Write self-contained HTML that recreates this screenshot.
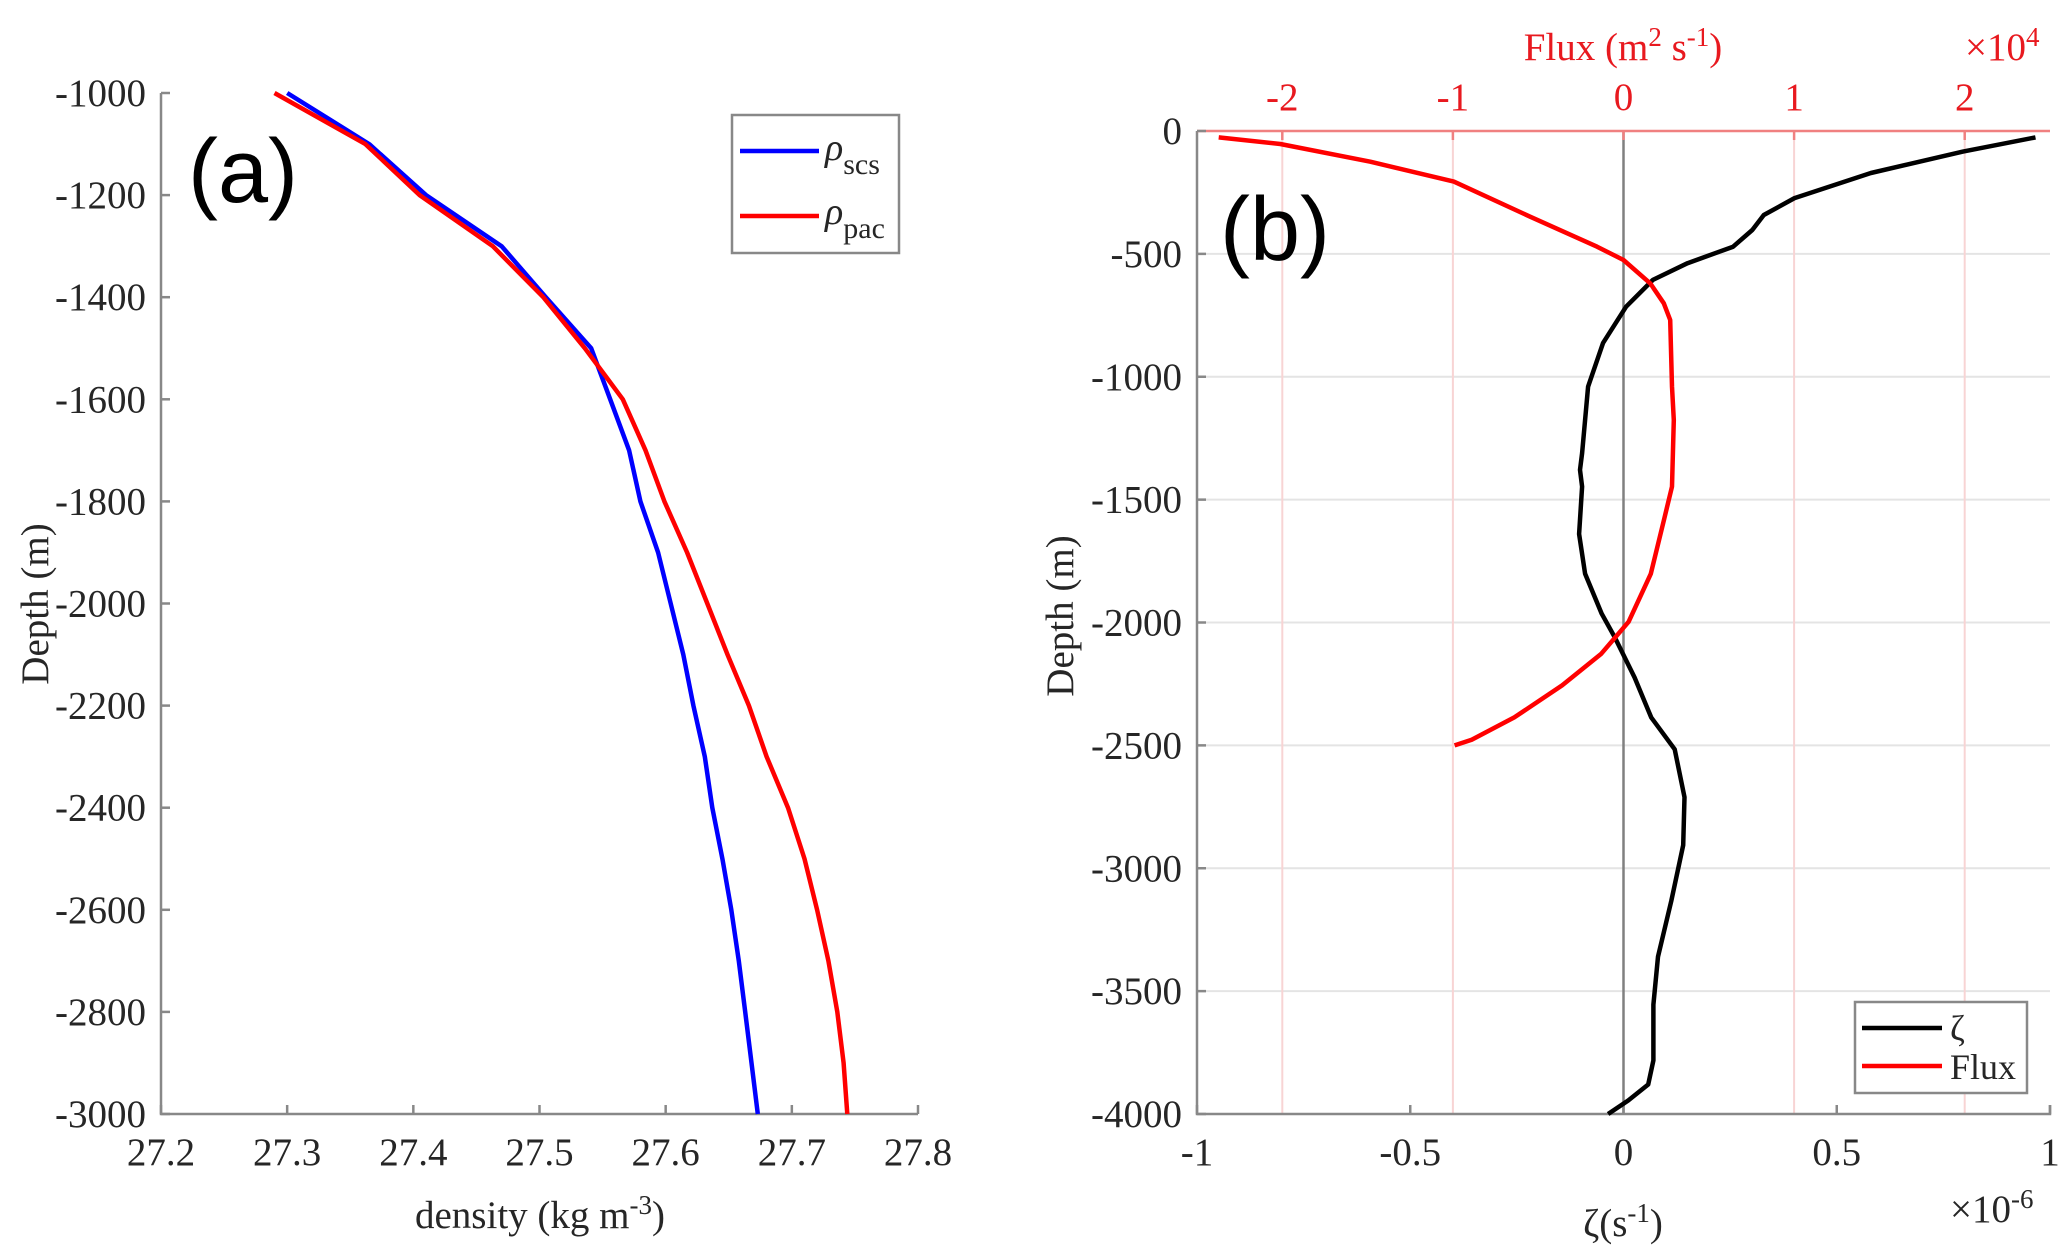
<!DOCTYPE html>
<html><head><meta charset="utf-8"><style>
html,body{margin:0;padding:0;background:#fff;}
svg{display:block;}
text{font-family:"Liberation Serif",serif;}
text.sans{font-family:"Liberation Sans",sans-serif;}
</style></head><body>
<svg id="fig" width="2067" height="1250" viewBox="0 0 2067 1250" xmlns="http://www.w3.org/2000/svg"></svg>
<script>
// ---------- Panel (a) data ----------
const aDepths = [-1000,-1100,-1200,-1300,-1400,-1500,-1600,-1700,-1800,-1900,-2000,-2100,-2200,-2300,-2400,-2500,-2600,-2700,-2800,-2900,-3000];
const rhoScs = [27.30,27.365,27.41,27.47,27.505,27.541,27.556,27.571,27.580,27.594,27.604,27.614,27.622,27.631,27.637,27.645,27.652,27.658,27.663,27.668,27.673];
const rhoPac = [27.29,27.362,27.405,27.463,27.503,27.536,27.566,27.584,27.599,27.617,27.633,27.649,27.666,27.680,27.697,27.710,27.720,27.729,27.736,27.741,27.744];
const aXTicks = [27.2,27.3,27.4,27.5,27.6,27.7,27.8];
const aYTicks = [-1000,-1200,-1400,-1600,-1800,-2000,-2200,-2400,-2600,-2800,-3000];
// ---------- Panel (b) data ----------
const zetaDepths = [-26,-84,-171,-273,-342,-403,-471,-538,-606,-715,-863,-1040,-1311,-1379,-1447,-1640,-1802,-1964,-2062,-2224,-2386,-2516,-2711,-2906,-3133,-3360,-3555,-3782,-3880,-3945,-4000];
const zetaVals = [0.966,0.796,0.580,0.401,0.329,0.302,0.257,0.150,0.069,0.006,-0.048,-0.083,-0.097,-0.102,-0.097,-0.104,-0.09,-0.051,-0.02,0.026,0.065,0.12,0.143,0.14,0.112,0.081,0.07,0.07,0.058,0.011,-0.036];
const fluxDepths = [-26,-53,-125,-206,-349,-471,-525,-620,-701,-769,-1040,-1176,-1447,-1575,-1802,-1997,-2127,-2256,-2386,-2477,-2500];
const fluxVals = [-2.373,-2.012,-1.484,-0.995,-0.546,-0.155,0,0.157,0.236,0.274,0.284,0.295,0.284,0.24,0.16,0.03,-0.13,-0.36,-0.64,-0.89,-0.99];
const bXTicks = [-1,-0.5,0,0.5,1];
const bXTickLabels = ['-1','-0.5','0','0.5','1'];
const fluxTicks = [-2,-1,0,1,2];
const bYTicks = [0,-500,-1000,-1500,-2000,-2500,-3000,-3500,-4000];

const svg = document.getElementById('fig');
const NS = 'http://www.w3.org/2000/svg';
function mk(tag, attrs, parent){
  const e = document.createElementNS(NS, tag);
  for (const k in attrs) e.setAttribute(k, attrs[k]);
  (parent||svg).appendChild(e);
  return e;
}
function txt(s, attrs, parent){ const t = mk('text', attrs, parent); t.textContent = s; return t; }
function linePath(xs, ys, fx, fy){ return xs.map((v,i)=>(i?'L':'M')+fx(v).toFixed(1)+','+fy(ys[i]).toFixed(1)).join(' '); }

// ----- Panel a axes -----
const A = {l:161, r:918, t:93, b:1114};
const ax = v => A.l + (v-27.2)/(0.6)*(A.r-A.l);
const ay = d => A.t + (-1000-d)/2000*(A.b-A.t);

const ga = mk('g', {});


const axA = mk('path', {d:`M${A.l},${A.t} L${A.l},${A.b} L${A.r},${A.b}`, fill:'none', stroke:'#888', 'stroke-width':2.5}, ga);


aXTicks.forEach(v=>{
  const x = ax(v);
  mk('line',{x1:x,y1:A.b,x2:x,y2:A.b-9,stroke:'#888','stroke-width':2.5},ga);
  const t = txt(v.toFixed(1),{x:x,y:1165,'font-size':39,'text-anchor':'middle',fill:'#262626'},ga);
  
  
});
aYTicks.forEach(v=>{
  const y = ay(v);
  mk('line',{x1:A.l,y1:y,x2:A.l+9,y2:y,stroke:'#888','stroke-width':2.5},ga);
  const t = txt(String(v),{x:A.l-15,y:y+13,'font-size':39,'text-anchor':'end',fill:'#262626'},ga);
  
  
});
const lScs = mk('path',{d:linePath(rhoScs,aDepths,ax,ay),fill:'none',stroke:'#0000ff','stroke-width':4.5,'stroke-linejoin':'round'},ga);


const lPac = mk('path',{d:linePath(rhoPac,aDepths,ax,ay),fill:'none',stroke:'#ff0000','stroke-width':4.5,'stroke-linejoin':'round'},ga);


const labA = txt('(a)',{x:188,y:202,'font-size':90,'class':'sans',fill:'#000'},ga);


const xtA = txt('',{x:540,y:1228,'font-size':39,'text-anchor':'middle',fill:'#262626'},ga);
xtA.innerHTML = 'density (kg m<tspan dy="-14" font-size="27">-3</tspan><tspan dy="14">)</tspan>';


const ytA = txt('Depth (m)',{x:0,y:0,'font-size':39,'text-anchor':'middle',fill:'#262626',transform:'translate(48,604) rotate(-90)'},ga);


// legend a
const legA = mk('g',{},ga);


mk('rect',{x:732,y:115,width:167,height:138,fill:'#fff',stroke:'#888','stroke-width':2.5},legA);
mk('line',{x1:740,y1:151,x2:819,y2:151,stroke:'#0000ff','stroke-width':4.5},legA);
mk('line',{x1:740,y1:216,x2:819,y2:216,stroke:'#ff0000','stroke-width':4.5},legA);
const le1 = txt('',{x:825,y:160,'font-size':38,fill:'#262626'},legA);
le1.innerHTML = '<tspan font-style="italic">ρ</tspan><tspan dy="14" font-size="30">scs</tspan>';


const le2 = txt('',{x:825,y:224,'font-size':38,fill:'#262626'},legA);
le2.innerHTML = '<tspan font-style="italic">ρ</tspan><tspan dy="14" font-size="30">pac</tspan>';



// ----- Panel b axes -----
const B = {l:1197, r:2050, t:131, b:1114};
const bx = v => B.l + (v+1)/2*(B.r-B.l);
const fx = v => B.l + (v+2.5)/5*(B.r-B.l);
const by = d => B.t + (-d)/4000*(B.b-B.t);
const gb = mk('g', {});


bYTicks.forEach(v=>{
  const y = by(v);
  mk('line',{x1:B.l,y1:y,x2:B.r,y2:y,stroke:'#e4e4e4','stroke-width':2},gb);
});
fluxTicks.forEach(v=>{
  const x = fx(v);
  mk('line',{x1:x,y1:B.t,x2:x,y2:B.b,stroke:'#f8d4d4','stroke-width':2},gb);
});
const zl = mk('line',{x1:bx(0),y1:B.t,x2:bx(0),y2:B.b,stroke:'#808080','stroke-width':2.5},gb);


const axB = mk('path',{d:`M${B.l},${B.t} L${B.l},${B.b} L${B.r},${B.b} L${B.r},${B.b-9}`,fill:'none',stroke:'#888','stroke-width':2.5},gb);


const axT = mk('line',{x1:B.l,y1:B.t,x2:B.r,y2:B.t,stroke:'#f08080','stroke-width':2.5},gb);


bXTicks.forEach((v,i)=>{
  const x = bx(v);
  mk('line',{x1:x,y1:B.b,x2:x,y2:B.b-9,stroke:'#888','stroke-width':2.5},gb);
  const t = txt(bXTickLabels[i],{x:x,y:1165,'font-size':39,'text-anchor':'middle',fill:'#262626'},gb);
  
  
});
fluxTicks.forEach(v=>{
  const x = fx(v);
  mk('line',{x1:x,y1:B.t,x2:x,y2:B.t+9,stroke:'#f08080','stroke-width':2.5},gb);
  const t = txt(String(v),{x:x,y:110,'font-size':39,'text-anchor':'middle',fill:'#e8191f'},gb);
  
  
});
bYTicks.forEach(v=>{
  const y = by(v);
  mk('line',{x1:B.l,y1:y,x2:B.l+9,y2:y,stroke:'#888','stroke-width':2.5},gb);
  const t = txt(String(v),{x:B.l-15,y:y+13,'font-size':39,'text-anchor':'end',fill:'#262626'},gb);
  
  
});
const lZeta = mk('path',{d:linePath(zetaVals,zetaDepths,bx,by),fill:'none',stroke:'#000','stroke-width':4.5,'stroke-linejoin':'round'},gb);


const lFlux = mk('path',{d:linePath(fluxVals,fluxDepths,fx,by),fill:'none',stroke:'#ff0000','stroke-width':4.5,'stroke-linejoin':'round'},gb);


const labB = txt('(b)',{x:1220,y:260,'font-size':90,'class':'sans',fill:'#000'},gb);


const ytB = txt('Depth (m)',{x:0,y:0,'font-size':39,'text-anchor':'middle',fill:'#262626',transform:'translate(1073,616) rotate(-90)'},gb);


const xtB = txt('',{x:1623,y:1236,'font-size':39,'text-anchor':'middle',fill:'#262626'},gb);
xtB.innerHTML = 'ζ(s<tspan dy="-14" font-size="27">-1</tspan><tspan dy="14">)</tspan>';


const expB = txt('',{x:1950,y:1222,'font-size':39,fill:'#262626'},gb);
expB.innerHTML = '×10<tspan dy="-14" font-size="27">-6</tspan>';


const ftB = txt('',{x:1623,y:60,'font-size':39,'text-anchor':'middle',fill:'#e8191f'},gb);
ftB.innerHTML = 'Flux (m<tspan dy="-14" font-size="27">2</tspan><tspan dy="14"> s</tspan><tspan dy="-14" font-size="27">-1</tspan><tspan dy="14">)</tspan>';


const fexp = txt('',{x:1965,y:60,'font-size':39,fill:'#e8191f'},gb);
fexp.innerHTML = '×10<tspan dy="-14" font-size="27">4</tspan>';


// legend b
const legB = mk('g',{},gb);


mk('rect',{x:1855,y:1002,width:172,height:91,fill:'#fff',stroke:'#888','stroke-width':2.5},legB);
mk('line',{x1:1862,y1:1028,x2:1942,y2:1028,stroke:'#000','stroke-width':4.5},legB);
mk('line',{x1:1862,y1:1066,x2:1942,y2:1066,stroke:'#ff0000','stroke-width':4.5},legB);
const lb1 = txt('ζ',{x:1950,y:1040,'font-size':36,fill:'#262626'},legB);


const lb2 = txt('Flux',{x:1950,y:1079,'font-size':36,fill:'#262626'},legB);


</script>
</body></html>
